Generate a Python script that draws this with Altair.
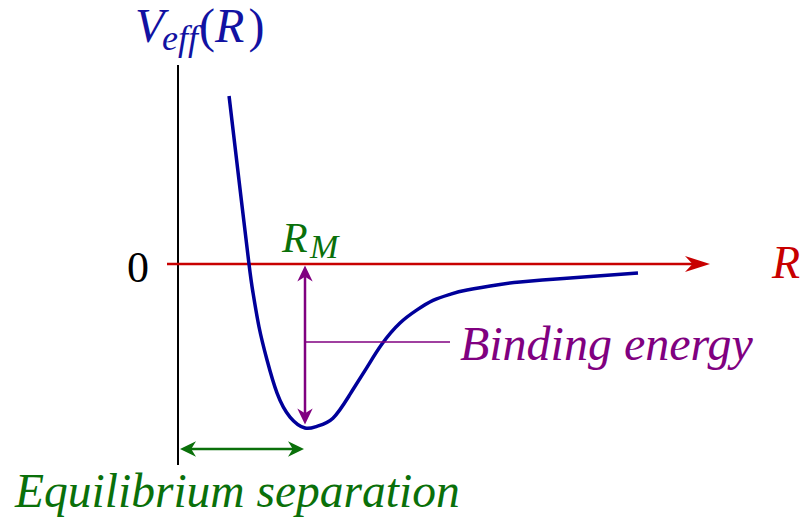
import altair as alt
import pandas as pd

W, H = 802, 518
FONT = "Liberation Serif"

# Effective potential, R in units of R_M and V in units of the well depth
R_CURVE = [0.402, 0.480, 0.559, 0.591, 0.638, 0.701, 0.780, 0.882, 1.000,
           1.094, 1.220, 1.354, 1.488, 1.606, 1.748, 1.882, 2.008, 2.142,
           2.276, 2.535, 2.693, 2.953, 3.220, 3.622]
V_CURVE = [1.024, 0.512, 0.000, -0.177, -0.384, -0.585, -0.787, -0.933, -1.000,
           -0.990, -0.940, -0.795, -0.630, -0.488, -0.360, -0.280, -0.222, -0.185,
           -0.159, -0.125, -0.110, -0.093, -0.078, -0.055]

R_EQ = 1.0          # equilibrium separation R_M
V_MIN = -1.0        # bottom of the well
BIND_LABEL_V = -0.476

X_DOMAIN = [-1.4016, 4.9134]
Y_DOMAIN = [-1.5488, 1.6098]
PX = W / (X_DOMAIN[1] - X_DOMAIN[0])   # pixels per unit of R
PY = H / (Y_DOMAIN[1] - Y_DOMAIN[0])   # pixels per unit of V

xs = alt.Scale(domain=X_DOMAIN, nice=False, zero=False)
ys = alt.Scale(domain=Y_DOMAIN, nice=False, zero=False)

BLUE = "#00009a"
TITLE_BLUE = "#1212a2"
RED = "#c80000"
GREEN = "#0a700a"
PURPLE = "#800080"

# arrowheads pointing right, tip at the origin
HEAD_LONG = "M0,0L-1,-0.32L-0.7,0L-1,0.32Z"
HEAD_SHORT = "M0,0L-1,-0.48L-0.7,0L-1,0.48Z"


def X(f):
    return alt.X(f, type="quantitative", scale=xs, axis=None)


def Y(f):
    return alt.Y(f, type="quantitative", scale=ys, axis=None)


def seg(x1, y1, x2, y2, color, width):
    df = pd.DataFrame({"x": [x1], "y": [y1], "x2": [x2], "y2": [y2]})
    return alt.Chart(df).mark_rule(color=color, strokeWidth=width).encode(
        x=X("x"), y=Y("y"), x2="x2", y2="y2")


def head(x, y, angle, color, path, length):
    df = pd.DataFrame({"x": [x], "y": [y]})
    return alt.Chart(df).mark_point(
        shape=path, filled=True, color=color, opacity=1, strokeWidth=0,
        size=(2 * length) ** 2, angle=angle).encode(x=X("x"), y=Y("y"))


def label(text, r, v, size, color, italic=True, align="left"):
    df = pd.DataFrame({"x": [r], "y": [v]})
    return alt.Chart(df).mark_text(
        text=text, align=align, baseline="alphabetic", font=FONT,
        fontSize=size, fontStyle="italic" if italic else "normal",
        color=color).encode(x=X("x"), y=Y("y"))


curve_df = pd.DataFrame({"R": R_CURVE, "V": V_CURVE})
curve = alt.Chart(curve_df).mark_line(
    color=BLUE, strokeWidth=3.5, interpolate="natural").encode(
    x=X("R"), y=Y("V"))

# vertical axis
axis_v = seg(0, 1.2134, 0, -1.2256, "black", 2)

# R axis arrow
r_tip = 4.189
r_axis = seg(-0.0866, 0, r_tip - 17 / PX, 0, RED, 2.6)
r_head = head(r_tip, 0, 0, RED, HEAD_LONG, 25)

# binding-energy double arrow
b_top = 0 - 1.5 / PY
b_bot = V_MIN + 3.5 / PY
bind = seg(R_EQ, b_top - 11 / PY, R_EQ, b_bot + 11 / PY, PURPLE, 2.5)
bind_h1 = head(R_EQ, b_top, 270, PURPLE, HEAD_SHORT, 16)
bind_h2 = head(R_EQ, b_bot, 90, PURPLE, HEAD_SHORT, 16)
bind_lead = seg(R_EQ, BIND_LABEL_V, 2.142, BIND_LABEL_V, PURPLE, 1.4)

# equilibrium separation double arrow
eq_v = -1.128
e_l = 0 + 2 / PX
e_r = R_EQ - 1 / PX
eq = seg(e_l + 11 / PX, eq_v, e_r - 11 / PX, eq_v, GREEN, 2.5)
eq_h1 = head(e_l, eq_v, 180, GREEN, HEAD_SHORT, 16)
eq_h2 = head(e_r, eq_v, 0, GREEN, HEAD_SHORT, 16)

texts = [
    label("V", -0.339, 1.354, 48, TITLE_BLUE),
    label("eff", -0.126, 1.305, 36, TITLE_BLUE),
    label("(", 0.165, 1.354, 48, TITLE_BLUE, italic=False),
    label("R", 0.291, 1.354, 48, TITLE_BLUE),
    label(")", 0.555, 1.354, 48, TITLE_BLUE, italic=False),
    label("0", -0.228, -0.110, 44, "black", italic=False, align="right"),
    label("R", 4.677, -0.085, 46, RED),
    label("R", 0.819, 0.073, 42, GREEN),
    label("M", 1.039, 0.037, 34, GREEN),
    label("Binding energy", 2.220, -0.585, 48, PURPLE),
    label("Equilibrium separation", -1.283, -1.482, 47.5, GREEN),
]

chart = alt.layer(
    axis_v, r_axis, r_head, curve, bind_lead, bind, bind_h1, bind_h2,
    eq, eq_h1, eq_h2, *texts
).properties(
    width=W, height=H, padding=0,
    autosize=alt.AutoSizeParams(type="none"),
    background="white",
).configure_view(stroke=None)

chart.save("out.html", embed_options={"renderer": "svg", "actions": False})
